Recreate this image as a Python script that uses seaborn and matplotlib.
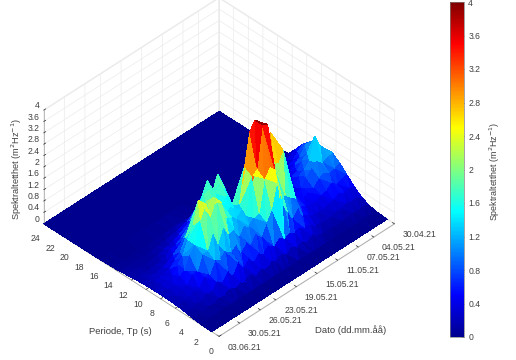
import numpy as np
import matplotlib
matplotlib.use('Agg')
import matplotlib.pyplot as plt
import seaborn as sns

# perioder (s) langs rad, ett rad-sett per dag fra 30.04.21 til 03.06.21
periods = [1, 2.5, 3.5, 4.5, 5.5, 6.5, 7.5, 8.5, 9.5, 10.5, 11.5, 12.5, 13.5, 14.5, 16.5, 24]
spectrum = [
    [0, .02, .08, .2, .4, .65, .9, 1.1, 1.05, 1.05, 1.0, .75, .4, .08, .02, 0],
    [0, .03, .15, .3, .45, .6, .8, 1.1, 1.3, 1.1, 1.0, .6, .3, .08, .02, 0],
    [0, .03, .12, .25, .4, .55, .75, 1.0, 1.75, 1.0, .7, .4, .2, .08, .02, 0],
    [0, .03, .15, .3, .5, .7, .9, 1.15, 1.0, .85, .55, .3, .15, .06, .02, 0],
    [0, .03, .12, .22, .38, .55, .8, 1.0, .8, .6, .4, .22, .12, .05, .01, 0],
    [0, .02, .1, .25, .35, .5, .6, .8, .7, .5, .3, .15, .08, .03, .01, 0],
    [0, .02, .08, .18, .28, .4, .55, .55, .45, .35, .2, .1, .05, .02, 0, 0],
    [0, .02, .1, .15, .3, .4, .5, .45, .35, .25, .15, .08, .04, .02, 0, 0],
    [0, .02, .08, .2, .32, .45, .55, .5, .32, .2, .12, .06, .03, .01, 0, 0],
    [0, .02, .14, .22, .45, .6, .85, .8, .5, .3, .18, .08, .04, .02, 0, 0],
    [0, .03, .16, .4, .55, 1.0, 1.3, 1.6, .85, .45, .22, .1, .05, .02, 0, 0],
    [0, .03, .28, .42, .95, 1.15, 2.65, 2.0, 1.2, .55, .28, .14, .06, .02, 0, 0],
    [0, .03, .16, .5, .7, 1.35, 2.3, 3.2, 1.4, .7, .28, .14, .06, .02, 0, 0],
    [0, .03, .3, .45, 1.05, 1.35, 2.5, 2.9, 1.4, .65, .35, .15, .07, .02, 0, 0],
    [0, .03, .2, .6, 1.6, 2.5, 3.9, 3.8, 1.6, .8, .32, .15, .07, .02, 0, 0],
    [0, .03, .34, .5, 2.3, 2.7, 4.0, 4.0, 2.1, .85, .4, .2, .08, .03, 0, 0],
    [0, .03, .2, .65, 1.5, 2.4, 2.6, 3.7, 1.7, .8, .38, .2, .08, .03, 0, 0],
    [0, .03, .32, .48, 1.15, 1.3, 2.45, 2.6, 1.4, .8, .45, .22, .1, .03, 0, 0],
    [0, .03, .18, .6, .75, 1.25, 1.15, 1.4, 1.2, 1.6, 1.95, .8, .25, .05, .01, 0],
    [0, .03, .3, .42, .95, 1.05, 1.45, 1.35, 1.6, 1.9, 1.4, .6, .2, .05, .01, 0],
    [0, .03, .18, .58, .68, 1.2, 1.25, 1.5, 1.4, 1.7, 1.95, 1.0, .35, .08, .01, 0],
    [0, .03, .28, .36, .88, .95, 1.45, 1.35, 1.6, 1.9, 1.5, .8, .3, .08, .01, 0],
    [0, .03, .18, .6, .66, 1.3, 1.55, 1.95, 1.7, 1.85, 1.2, .6, .25, .08, .01, 0],
    [0, .03, .32, .42, 1.05, 1.25, 2.2, 2.2, 1.9, 1.4, .95, .42, .2, .07, .01, 0],
    [0, .03, .18, .72, .9, 1.65, 2.45, 2.1, 1.6, 1.2, .65, .35, .15, .06, .01, 0],
    [0, .03, .28, .38, 1.05, 1.15, 1.95, 1.85, 1.5, .9, .55, .28, .12, .05, .01, 0],
    [0, .03, .18, .65, .85, 1.7, 2.5, 2.45, 1.3, .8, .42, .22, .1, .04, .01, 0],
    [0, .03, .26, .38, .98, 1.15, 2.05, 1.7, 1.1, .55, .35, .18, .08, .03, .01, 0],
    [0, .02, .14, .48, .58, 1.15, 1.3, 1.3, .72, .45, .24, .12, .06, .03, .01, 0],
    [0, .02, .18, .24, .58, .65, 1.05, .85, .55, .28, .18, .1, .05, .02, .01, 0],
    [0, .02, .08, .28, .3, .6, .62, .65, .36, .25, .14, .08, .04, .02, 0, 0],
    [0, .02, .12, .15, .33, .36, .52, .4, .3, .18, .12, .07, .04, .02, 0, 0],
    [0, .02, .06, .17, .22, .32, .32, .35, .27, .2, .11, .08, .05, .02, 0, 0],
    [0, .01, .07, .1, .21, .23, .3, .28, .25, .18, .14, .1, .06, .03, 0, 0],
    [0, .01, .04, .08, .12, .14, .15, .15, .14, .13, .11, .08, .05, .03, .01, 0],
]
date_ticks = [0, 4, 7, 11, 15, 19, 23, 26, 30, 34]
date_labels = ['30.04.21', '04.05.21', '07.05.21', '11.05.21', '15.05.21',
               '19.05.21', '23.05.21', '26.05.21', '30.05.21', '03.06.21']
period_ticks = [0, 2, 4, 6, 8, 10, 12, 14, 16, 18, 20, 22, 24]
z_ticks = [0, .4, .8, 1.2, 1.6, 2, 2.4, 2.8, 3.2, 3.6, 4]
z_labels = ['0', '0.4', '0.8', '1.2', '1.6', '2', '2.4', '2.8', '3.2', '3.6', '4']
jet_colors = ['#00008f', '#0000ff', '#0080ff', '#00ffff', '#80ff80', '#ffff00', '#ff8000', '#ff0000', '#800000']

sns.set_theme(style='white')
plt.rcParams['font.family'] = ['Liberation Sans', 'DejaVu Sans']
txt = '#404040'
gridc = '#ebebeb'
jet = sns.blend_palette(jet_colors, n_colors=64, as_cmap=True)

fig = plt.figure(figsize=(5.16, 3.6), dpi=100)
ax = fig.add_axes([-0.0873, -0.111, 1.0, 1.26], projection='3d', computed_zorder=False)
ax.set_proj_type('ortho')
ax.view_init(elev=39.9, azim=-135)
ax.set_box_aspect((242, 242, 144.5), zoom=0.815)

Z = np.array(spectrum)
days = np.arange(Z.shape[0])
P, D = np.meshgrid(periods, days)
ax.plot_trisurf((34 - D).ravel().astype(float), P.ravel().astype(float), Z.ravel(),
                cmap=jet, vmin=0, vmax=4, linewidth=0, antialiased=False)

ax.set_xlim(0, 34)
ax.set_ylim(0, 24)
ax.set_zlim(0, 4)
ax.set_xticks([34 - d for d in date_ticks])
ax.set_xticklabels(date_labels, fontsize=6.2, color=txt, ha='left', va='center')
ax.set_yticks(period_ticks)
ax.set_yticklabels([str(p) for p in period_ticks], fontsize=6.2, color=txt)
ax.set_zticks(z_ticks)
ax.set_zticklabels(z_labels, fontsize=6.2, color=txt, ha='right', va='bottom')
ax.tick_params(axis='x', pad=0)
ax.tick_params(axis='y', pad=0)
ax.tick_params(axis='z', pad=-6)

for a in (ax.xaxis, ax.yaxis, ax.zaxis):
    a.set_pane_color((1, 1, 1, 1))
    a.pane.set_edgecolor(gridc)
    a.line.set_color('#a0a0a0')
    a.line.set_linewidth(0.5)
    a._axinfo['grid'].update(color=gridc, linewidth=0.5)
    a._axinfo['tick'].update(inward_factor=0.0, outward_factor=0.15, linewidth={True: .5, False: .5}, color='#808080')
ax.grid(True)

fig.text(120 / 516, 1 - 331 / 360, 'Periode, Tp (s)', fontsize=6.8, color=txt, ha='center', va='center')
fig.text(351 / 516, 1 - 330 / 360, 'Dato (dd.mm.åå)', fontsize=6.8, color=txt, ha='center', va='center')
fig.text(17 / 516, 1 - 169 / 360, 'Spektraltetthet (m$^2$Hz$^{-1}$)', fontsize=6.6, color=txt,
         rotation=90, ha='center', va='center')

cax = fig.add_axes([450 / 516, 1 - 337 / 360, 14 / 516, 335 / 360])
sm = plt.cm.ScalarMappable(cmap=jet, norm=plt.Normalize(0, 4))
cb = fig.colorbar(sm, cax=cax)
cb.set_ticks(z_ticks)
cb.set_ticklabels(z_labels)
cb.ax.tick_params(direction='in', length=2, width=0.5, labelsize=6.2, labelcolor=txt, color='#606060', pad=3, right=True)
cb.outline.set_linewidth(0.5)
cb.outline.set_edgecolor('#808080')
cb.set_label('Spektraltetthet (m$^2$Hz$^{-1}$)', fontsize=6.4, color=txt, labelpad=5, y=0.495)

fig.savefig('out.png', dpi=100)
